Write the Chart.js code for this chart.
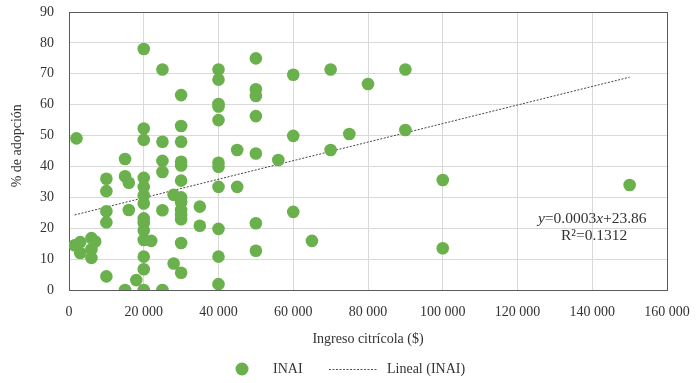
<!DOCTYPE html>
<html>
<head>
<meta charset="utf-8">
<script src="https://cdn.jsdelivr.net/npm/chart.js@4"></script>
<style>
  html, body { margin: 0; padding: 0; background: #fff; }
  #wrap { width: 698px; height: 383px; }
</style>
</head>
<body>
<div id="wrap"><canvas id="inaiChart" width="698" height="383"></canvas></div>
<script>
// Ingreso citrícola ($) and % de adopción
const ingreso = [
    2000, 1500, 3000, 3000, 6000, 7000, 6000, 6000,
    10000, 10000, 10000, 10000, 10000,
    15000, 15000, 16000, 16000, 15000, 18000,
    20000, 20000, 20000, 20000, 20000, 20000, 20000, 20000, 20000, 20000, 20000, 20000, 20000, 20000,
    22000,
    25000, 25000, 25000, 25000, 25000, 25000,
    28000, 28000,
    30000, 30000, 30000, 30000, 30000, 30000, 30000, 30000, 30000, 30000, 30000, 30000, 30000,
    35000, 35000,
    40000, 40000, 40000, 40000, 40000, 40000, 40000, 40000, 40000, 40000, 40000,
    45000, 45000,
    50000, 50000, 50000, 50000, 50000, 50000, 50000,
    56000,
    60000, 60000, 60000,
    65000,
    70000, 70000,
    75000, 80000,
    90000, 90000,
    100000, 100000,
    150000
];
const adopcion = [
    49.1, 14.5, 15.5, 12, 16.8, 15.7, 13.2, 10.4,
    36, 32, 25.5, 21.9, 4.4,
    42.4, 36.8, 34.7, 25.9, 0, 3.2,
    78, 52.3, 48.6, 36.3, 33.4, 30.6, 28, 23.2, 21.7, 19.3, 16.2, 10.8, 6.7, 0,
    15.9,
    71.4, 48, 41.8, 38.2, 25.8, 0,
    30.8, 8.6,
    63.1, 53.1, 48, 41.5, 40.3, 35.4, 30, 28.4, 25.9, 24.3, 22.9, 15.2, 5.6,
    27, 20.8,
    71.4, 68.1, 60.2, 59.4, 55, 41.2, 39.9, 33.4, 19.8, 10.8, 1.9,
    45.3, 33.4,
    75, 65, 62.8, 56.3, 44.2, 21.6, 12.7,
    42.1,
    69.7, 49.9, 25.3,
    15.9,
    71.4, 45.3,
    50.5, 66.7,
    71.4, 51.8,
    35.6, 13.5,
    34
];
// trend line end points (Lineal (INAI))
const trendX = [1500, 150000];
const trendY = [24.3, 68.9];

const xTicks = [0, 20000, 40000, 60000, 80000, 100000, 120000, 140000, 160000];
const yTicks = [0, 10, 20, 30, 40, 50, 60, 70, 80, 90];

const serif = "'Liberation Serif', 'DejaVu Serif', serif";
const green = '#6ab04c';
const textColor = '#333333';

function fmtThousands(v) {
    return String(v).replace(/\B(?=(\d{3})+(?!\d))/g, ' ');
}

// frame round the plot area, under the points
const framePlugin = {
    id: 'frame',
    beforeDatasetsDraw(chart) {
        const a = chart.chartArea;
        const c = chart.ctx;
        c.save();
        c.strokeStyle = '#5a5a5a';
        c.lineWidth = 1;
        c.strokeRect(Math.round(a.left) + 0.5, Math.round(a.top) + 0.5,
                     Math.round(a.right - a.left), Math.round(a.bottom - a.top));
        c.restore();
    }
};

// equation text + custom legend
const notesPlugin = {
    id: 'notes',
    afterDraw(chart) {
        const c = chart.ctx;
        const xs = chart.scales.x, ys = chart.scales.y;
        c.save();
        c.fillStyle = textColor;
        c.textBaseline = 'middle';

        // y=0.0003x+23.86
        const fs = '15.5px ';
        const parts = [
            ['y', 'italic '], ['=0.0003', ''], ['x', 'italic '], ['+23.86', '']
        ];
        let total = 0;
        parts.forEach(p => { c.font = p[1] + fs + serif; total += c.measureText(p[0]).width; });
        let cx = xs.getPixelForValue(140000) - total / 2;
        const ey = ys.getPixelForValue(23.0);
        c.textAlign = 'left';
        parts.forEach(p => {
            c.font = p[1] + fs + serif;
            c.fillText(p[0], cx, ey);
            cx += c.measureText(p[0]).width;
        });
        c.font = fs + serif;
        c.textAlign = 'center';
        c.fillText('R\u00B2=0.1312', xs.getPixelForValue(140500), ey + 17);

        // legend
        const ly = 369;
        c.fillStyle = green;
        c.beginPath();
        c.arc(242, ly, 6.5, 0, Math.PI * 2);
        c.fill();
        c.fillStyle = textColor;
        c.font = '14px ' + serif;
        c.textAlign = 'left';
        c.fillText('INAI', 273, ly);
        c.strokeStyle = '#555';
        c.lineWidth = 1;
        c.setLineDash([2, 1.5]);
        c.beginPath();
        c.moveTo(329, ly + 0.5);
        c.lineTo(377, ly + 0.5);
        c.stroke();
        c.setLineDash([]);
        c.fillText('Lineal (INAI)', 387, ly);
        c.restore();
    }
};

const ctx = document.getElementById('inaiChart').getContext('2d');

let inaiChart = new Chart(ctx, {
    type: 'scatter',
    data: {
        datasets: [
            {
                label: 'Lineal (INAI)',
                type: 'line',
                data: trendX.map((x, i) => ({ x: x, y: trendY[i] })),
                borderColor: '#444',
                borderWidth: 1,
                borderDash: [2, 1.5],
                pointRadius: 0,
                fill: false,
                order: 2
            },
            {
                label: 'INAI',
                data: ingreso.map((x, i) => ({ x: x, y: adopcion[i] })),
                backgroundColor: green,
                borderColor: green,
                borderWidth: 0,
                pointRadius: 6.3,
                pointHoverRadius: 6.3,
                order: 1
            }
        ]
    },
    options: {
        responsive: false,
        animation: false,
        layout: { padding: { left: 0, top: 12, right: 31, bottom: 0 } },
        scales: {
            x: {
                type: 'linear',
                min: 0,
                max: 160000,
                afterBuildTicks: s => { s.ticks = xTicks.map(v => ({ value: v })); },
                afterFit: s => { s.height = 93; s.paddingLeft = 0; s.paddingRight = 0; },
                grid: { color: '#d9d9d9', drawTicks: false },
                border: { display: false },
                ticks: {
                    color: textColor,
                    padding: 14,
                    maxRotation: 0,
                    font: { family: serif, size: 14 },
                    callback: v => fmtThousands(v)
                },
                title: {
                    display: true,
                    text: 'Ingreso citrícola ($)',
                    color: textColor,
                    font: { family: serif, size: 14 },
                    padding: { top: 0, bottom: 35 }
                }
            },
            y: {
                min: 0,
                max: 90,
                afterBuildTicks: s => { s.ticks = yTicks.map(v => ({ value: v })); },
                afterFit: s => { s.width = 69; s.paddingTop = 0; s.paddingBottom = 0; },
                grid: { color: '#d9d9d9', drawTicks: false },
                border: { display: false },
                ticks: {
                    color: textColor,
                    padding: 15,
                    font: { family: serif, size: 14 }
                },
                title: {
                    display: true,
                    text: '\u00A0\u00A0\u00A0% de adopción',
                    color: textColor,
                    font: { family: serif, size: 14 },
                    padding: { top: 9, bottom: 0 }
                }
            }
        },
        plugins: {
            legend: { display: false },
            tooltip: { enabled: false }
        }
    },
    plugins: [framePlugin, notesPlugin]
});
</script>
</body>
</html>
